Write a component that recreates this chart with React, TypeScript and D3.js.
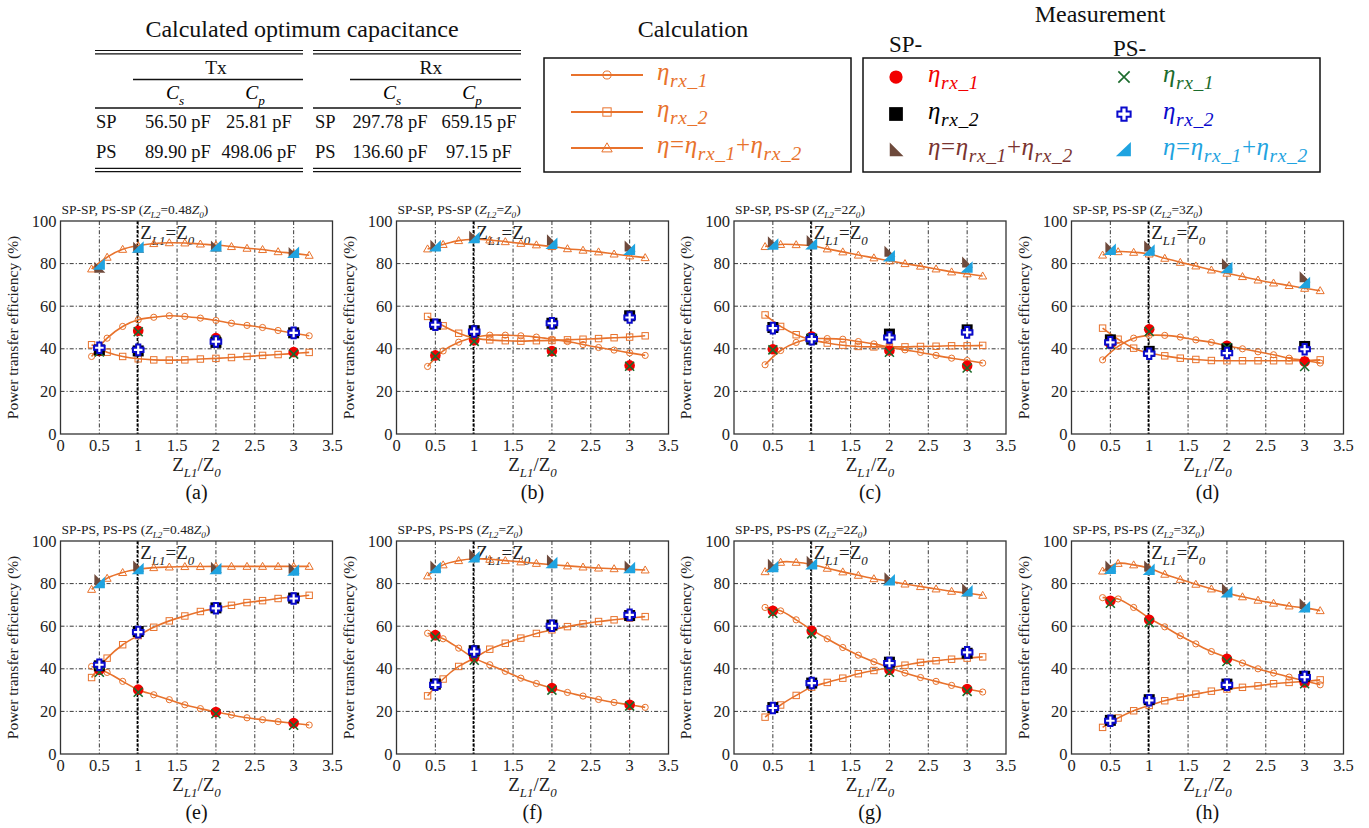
import React from 'react';
import * as d3 from 'd3';

const FONT = "'Liberation Serif','Times New Roman',serif";
const ORANGE = '#E8722C';

// ---------- data ----------
const calcX = [0.4, 0.6, 0.8, 1.0, 1.2, 1.4, 1.6, 1.8, 2.0, 2.2, 2.4, 2.6, 2.8, 3.0, 3.2];
const measX = [0.5, 1, 2, 3];
const xTicks = [0, 0.5, 1, 1.5, 2, 2.5, 3, 3.5];
const yTicks = [0, 20, 40, 60, 80, 100];
const panelLetters = ['a', 'b', 'c', 'd', 'e', 'f', 'g', 'h'];
const zl2Coef = ['0.48', '', '2', '3'];
const rowPrefix = ['SP-SP, PS-SP', 'SP-PS, PS-PS'];

// calculation (rows a..h)
const calcRx1 = [
  [36.4, 45, 50.5, 53.6, 54.8, 55.5, 55.2, 54.4, 53.3, 52, 51, 50, 48.6, 47.3, 46.1],
  [31.7, 39, 43.1, 45.3, 46.4, 46.4, 46.1, 45.5, 44.5, 43.4, 42, 40.6, 39.4, 38.1, 36.9],
  [32.5, 39.2, 43, 44.7, 44.8, 44.5, 43.4, 42.3, 40.8, 39.5, 38.3, 36.9, 35.6, 34.5, 33.3],
  [34.8, 41.1, 45, 46.3, 46.3, 45.5, 44.2, 43, 41.4, 40, 38.6, 37.2, 35.6, 34.5, 33.3],
  [41.1, 38.3, 34.1, 30.2, 27.8, 25.5, 23.1, 21.3, 19.7, 18.3, 17, 16.1, 15.2, 14.4, 13.6],
  [56.7, 54.1, 49.7, 45, 41.9, 38.8, 35.6, 33.1, 30.9, 28.9, 27.2, 25.6, 24.2, 23.1, 21.9],
  [68.8, 67.2, 63, 58.3, 54.1, 50, 46.4, 43.3, 40.5, 38, 35.9, 34.1, 32.2, 30.5, 29.1],
  [73.4, 72.8, 68.8, 63.8, 59.7, 55.5, 51.7, 48.1, 45.3, 42.7, 40, 38, 36.1, 34.4, 32.5],
];
const calcRx2 = [
  [41.9, 38.4, 36.4, 35.3, 34.8, 34.7, 34.8, 35.2, 35.5, 35.9, 36.4, 36.9, 37.3, 37.8, 38.3],
  [55.2, 50.8, 47.3, 45, 44.2, 43.8, 43.6, 43.8, 43.9, 44.2, 44.5, 44.8, 45.2, 45.5, 46.1],
  [55.9, 50.5, 46.6, 44.2, 42.7, 41.7, 41.1, 40.9, 40.9, 40.9, 41.1, 41.2, 41.4, 41.4, 41.6],
  [49.7, 44.5, 40.3, 38, 36.7, 35.6, 35, 34.5, 34.4, 34.4, 34.4, 34.4, 34.4, 34.5, 34.8],
  [35.9, 45, 51.3, 55.6, 59.5, 62.5, 64.8, 66.9, 68.4, 69.8, 71.1, 72, 73, 73.8, 74.5],
  [27.3, 35.2, 41.1, 45, 49.2, 52, 54.4, 56.6, 58.3, 59.8, 61.1, 62.2, 63, 63.8, 64.5],
  [17.3, 23, 27.5, 31.4, 33.6, 35.6, 37.7, 39.2, 40.5, 41.7, 43, 43.8, 44.5, 45, 45.6],
  [12.5, 16.9, 20.3, 22.8, 25, 26.7, 28.1, 29.5, 30.5, 31.3, 32, 33, 33.6, 34.1, 34.8],
];
const calcTotal = [
  [77.5, 83, 86.7, 88.4, 89.4, 89.8, 89.7, 89.2, 88.7, 88, 87.2, 86.6, 85.6, 84.8, 83.9],
  [86.9, 89, 90.8, 91.4, 91.1, 90.3, 89.5, 88.8, 88, 87, 86.3, 85.5, 84.5, 83.6, 82.8],
  [88, 89, 88.9, 88.4, 86.9, 85.5, 84, 82.7, 81.3, 80, 78.8, 77.5, 76.1, 75.2, 74.2],
  [84, 85.6, 85.3, 84.5, 82.5, 80.6, 78.9, 77, 75.5, 73.9, 72.3, 70.9, 69.7, 68.4, 67.3],
  [77.3, 82.5, 85.2, 86.7, 87.5, 87.8, 88, 88, 88.1, 88.1, 88.1, 88.1, 88.1, 88.1, 88.1],
  [83.6, 88.8, 90.8, 91.7, 91.4, 90.8, 90.2, 89.5, 88.9, 88.3, 87.8, 87.3, 87, 86.7, 86.4],
  [85.6, 90, 90, 89, 87.2, 85.5, 83.9, 82.3, 81.1, 79.8, 78.6, 77.5, 76.4, 75.5, 74.5],
  [85.9, 89.5, 88.8, 87.2, 84.4, 82, 79.7, 77.5, 75.5, 73.8, 72.2, 70.8, 69.5, 68.6, 67.3],
];

// measurement (rows a..h, at measX)
const spRx1 = [
  [39, 48.5, 45, 38.5], [36.9, 44, 39, 32.2], [39.8, 45.8, 39.2, 32], [42.5, 49.2, 41.4, 34],
  [39.5, 30.2, 19.7, 14.5], [55.8, 45.5, 31, 23.1], [67.2, 57.8, 39.5, 30.5], [71.9, 63, 44.7, 33.6],
];
const psRx1 = [
  [38.5, 48, 44, 37.5], [36.5, 43.5, 38.5, 31.8], [39.5, 45, 38.4, 31], [42, 48.1, 40.6, 31.7],
  [38.4, 29, 18.9, 13.5], [55, 44, 30, 22.5], [66.1, 56.4, 38.4, 29.4], [70.8, 61.7, 43.4, 33],
];
const spRx2 = [
  [39.5, 39, 43, 47.5], [51.5, 48.5, 52, 55.5], [50, 44.5, 46.9, 48.9], [44.2, 38.8, 40, 41.1],
  [41.4, 57.5, 68.6, 73.2], [32.8, 48.5, 60.5, 65], [21.8, 33.3, 43.1, 47.3], [15.8, 25.5, 32.8, 36.5],
];
const psRx2 = [
  [40.5, 39.5, 43.4, 47.5], [51.3, 48.1, 52, 54.7], [49.7, 44.5, 45.3, 47.7], [43, 37.7, 38, 39.8],
  [41.9, 57.2, 68.4, 73], [32.5, 48.1, 60.2, 65.3], [21.6, 33.3, 42.7, 47.7], [15.6, 25.2, 32.5, 36.1],
];
const spTotal = [
  [78, 87.5, 88, 85], [88.4, 92.6, 91, 88], [90, 90.6, 85.6, 80.5], [87.5, 88, 79.7, 73.6],
  [81.7, 88, 87.5, 87], [88, 93.4, 90.8, 88], [88.8, 90.3, 82.5, 77.3], [88, 88, 77.3, 70.3],
];
const psTotal = [
  [79.5, 87.5, 88, 85], [88, 91.9, 89.2, 86.4], [88.8, 89, 83.3, 78.1], [86.4, 86, 77.8, 70.8],
  [80.2, 86.7, 86.7, 86], [87.2, 92.3, 89.5, 87.2], [87.7, 89, 81.4, 76.3], [86.9, 86.4, 75.8, 68.8],
];

// table
const tableRows = ['SP', 'PS'];
const txCs = ['56.50 pF', '89.90 pF'];
const txCp = ['25.81 pF', '498.06 pF'];
const rxCs = ['297.78 pF', '136.60 pF'];
const rxCp = ['659.15 pF', '97.15 pF'];

const COLORS = {
  spRx1: '#F20000',
  spRx2: '#000000',
  spTot: '#6E4A3C',
  spTotText: '#7A3430',
  psRx1: '#1B6B2C',
  psRx2: '#0A0ACC',
  psTot: '#1FA3E0',
};

// ---------- helpers ----------
type Part = { t: string; sub?: boolean; it?: boolean };

function Rich({ x, y, parts, size, anchor = 'start', fill = '#000', subRatio = 0.68, shiftRatio = 0.3, spacing }: any) {
  let cur = 0;
  const shift = size * shiftRatio;
  return (
    <text x={x} y={y} fontSize={size} textAnchor={anchor} fill={fill} fontFamily={FONT} letterSpacing={spacing}>
      {parts.map((p: Part, i: number) => {
        const target = p.sub ? shift : 0;
        const dy = target - cur;
        cur = target;
        return (
          <tspan key={i} dy={dy !== 0 ? dy : undefined} fontSize={p.sub ? size * subRatio : size} fontStyle={p.it ? 'italic' : 'normal'}>
            {p.t}
          </tspan>
        );
      })}
    </text>
  );
}

const etaRx = (n: string): Part[] => [{ t: 'η', it: true }, { t: 'rx_' + n, sub: true, it: true }];
const etaTot: Part[] = [{ t: 'η', it: true }, { t: '=' }, ...etaRx('1'), { t: '+' }, ...etaRx('2')];

function MeasMarker({ kind, cx, cy, s = 1 }: any) {
  const k = s;
  switch (kind) {
    case 'spRx1':
      return <circle cx={cx} cy={cy} r={5.3 * k} fill={COLORS.spRx1} />;
    case 'spRx2':
      return <rect x={cx - 5.5 * k} y={cy - 5.5 * k} width={11 * k} height={11 * k} fill={COLORS.spRx2} />;
    case 'spTot':
      return <path d={`M${cx - 5 * k},${cy - 6 * k}L${cx - 5 * k},${cy + 5 * k}L${cx + 6 * k},${cy + 5 * k}Z`} fill={COLORS.spTot} />;
    case 'psRx1':
      return (
        <path
          d={`M${cx - 4.5 * k},${cy - 4.5 * k}L${cx + 4.5 * k},${cy + 4.5 * k}M${cx - 4.5 * k},${cy + 4.5 * k}L${cx + 4.5 * k},${cy - 4.5 * k}`}
          stroke={COLORS.psRx1}
          strokeWidth={1.6}
          fill="none"
        />
      );
    case 'psRx2': {
      const a = 2.1 * k, b = 5.3 * k;
      const pts = [[-a, -b], [a, -b], [a, -a], [b, -a], [b, a], [a, a], [a, b], [-a, b], [-a, a], [-b, a], [-b, -a], [-a, -a]]
        .map(([px, py]) => `${cx + px},${cy + py}`).join(' ');
      return <polygon points={pts} fill="#fff" stroke={COLORS.psRx2} strokeWidth={2} strokeLinejoin="miter" />;
    }
    case 'psTot':
      return <path d={`M${cx + 5.5 * k},${cy - 6.5 * k}L${cx + 5.5 * k},${cy + 5 * k}L${cx - 6.5 * k},${cy + 5 * k}Z`} fill={COLORS.psTot} />;
  }
  return null;
}

function CalcMarker({ kind, cx, cy, s = 1 }: any) {
  if (kind === 'c') return <circle cx={cx} cy={cy} r={3.1 * s} fill="none" stroke={ORANGE} strokeWidth={1} />;
  if (kind === 's') return <rect x={cx - 3.2 * s} y={cy - 3.2 * s} width={6.4 * s} height={6.4 * s} fill="none" stroke={ORANGE} strokeWidth={1} />;
  return <path d={`M${cx},${cy - 4 * s}L${cx + 4 * s},${cy + 3 * s}L${cx - 4 * s},${cy + 3 * s}Z`} fill="none" stroke={ORANGE} strokeWidth={1} />;
}

// ---------- panel ----------
const PW = 272;
const PH = 213;
const panelX = [60.5, 396.5, 734, 1071.5];
const panelY = [221, 541];

function Panel({ idx }: { idx: number }) {
  const row = Math.floor(idx / 4);
  const col = idx % 4;
  const x0 = panelX[col];
  const y0 = panelY[row];
  const x = d3.scaleLinear().domain([0, 3.5]).range([x0, x0 + PW]);
  const y = d3.scaleLinear().domain([0, 100]).range([y0 + PH, y0]);
  const line = d3.line<number>().x((_, i) => x(calcX[i])).y((d) => y(d)).curve(d3.curveCatmullRom.alpha(0.5));
  const calcSeries: [number[], string][] = [
    [calcRx1[idx], 'c'],
    [calcRx2[idx], 's'],
    [calcTotal[idx], 't'],
  ];
  const meas: [number[], string][] = [
    [spRx1[idx], 'spRx1'],
    [spRx2[idx], 'spRx2'],
    [spTotal[idx], 'spTot'],
    [psRx1[idx], 'psRx1'],
    [psRx2[idx], 'psRx2'],
    [psTotal[idx], 'psTot'],
  ];
  const coef = zl2Coef[col];
  const titleParts: Part[] = [
    { t: rowPrefix[row] + ' (' },
    { t: 'Z', it: true },
    { t: 'L2', sub: true, it: true },
    { t: '=' + coef },
    { t: 'Z', it: true },
    { t: '0', sub: true, it: true },
    { t: ')' },
  ];
  const gridDash = '4,2,1.2,2';
  return (
    <g>
      <Rich x={x0 + 1} y={y0 - 7} size={13.5} fill="#222" parts={titleParts} />
      {/* grid */}
      {xTicks.filter((t) => t > 0 && t < 3.5).map((t) => (
        <line key={'gx' + t} x1={x(t)} x2={x(t)} y1={y0} y2={y0 + PH} stroke="#222" strokeWidth={0.9} strokeDasharray={gridDash} />
      ))}
      {yTicks.filter((t) => t > 0 && t < 100).map((t) => (
        <line key={'gy' + t} x1={x0} x2={x0 + PW} y1={y(t)} y2={y(t)} stroke="#222" strokeWidth={0.9} strokeDasharray={gridDash} />
      ))}
      <line x1={x(1) - 0.8} x2={x(1) - 0.8} y1={y0} y2={y0 + PH} stroke="#000" strokeWidth={1.6} strokeDasharray="3,1.5" />
      <Rich
        x={x(1) + 2}
        y={y0 + 18}
        size={19}
        fill="#222"
        parts={[{ t: 'Z' }, { t: 'L1', sub: true, it: true }, { t: '=Z' }, { t: '0', sub: true, it: true }]}
      />
      {/* calc curves */}
      {calcSeries.map(([vals, k]) => (
        <g key={k}>
          <path d={line(vals) || ''} fill="none" stroke={ORANGE} strokeWidth={1.6} />
          {vals.map((v, i) => (
            <CalcMarker key={i} kind={k} cx={x(calcX[i])} cy={y(v)} />
          ))}
        </g>
      ))}
      {/* measurements */}
      {meas.map(([vals, k]) => (
        <g key={k}>
          {vals.map((v, i) => (
            <MeasMarker key={i} kind={k} cx={x(measX[i])} cy={y(v)} />
          ))}
        </g>
      ))}
      {/* box */}
      <rect x={x0} y={y0} width={PW} height={PH} fill="none" stroke="#333" strokeWidth={1.3} />
      {/* tick labels */}
      {xTicks.map((t) => (
        <text key={'xt' + t} x={x(t)} y={y0 + PH + 17} fontSize={16.5} textAnchor="middle" fontFamily={FONT} fill="#222">
          {String(t)}
        </text>
      ))}
      {yTicks.map((t) => (
        <text key={'yt' + t} x={x0 - 4} y={y(t) + 5.5} fontSize={16.5} textAnchor="end" fontFamily={FONT} fill="#222">
          {String(t)}
        </text>
      ))}
      <text
        transform={`translate(${x0 - 43},${y0 + PH / 2}) rotate(-90)`}
        fontSize={15.5}
        textAnchor="middle"
        fontFamily={FONT}
        fill="#222"
      >
        Power transfer efficiency (%)
      </text>
      <Rich
        x={x0 + PW / 2}
        y={y0 + PH + 37}
        size={19}
        anchor="middle"
        fill="#222"
        parts={[{ t: 'Z' }, { t: 'L1', sub: true, it: true }, { t: '/Z' }, { t: '0', sub: true, it: true }]}
      />
      <text x={x0 + PW / 2} y={y0 + PH + 65} fontSize={20} textAnchor="middle" fontFamily={FONT} fill="#111">
        ({panelLetters[idx]})
      </text>
    </g>
  );
}

// ---------- header ----------
function Table() {
  const L = [95, 303];
  const R = [313, 521];
  const rowY = [128, 158];
  const fs = 18.5;
  return (
    <g fontFamily={FONT} fill="#111">
      <text x={302} y={37} fontSize={24} textAnchor="middle">Calculated optimum capacitance</text>
      {[L, R].map(([a, b], i) => (
        <g key={i} stroke="#111">
          <line x1={a} x2={b} y1={50.5} y2={50.5} strokeWidth={1.2} />
          <line x1={a} x2={b} y1={53.8} y2={53.8} strokeWidth={1.2} />
          <line x1={a} x2={b} y1={108} y2={108} strokeWidth={1.4} />
          <line x1={a} x2={b} y1={168.3} y2={168.3} strokeWidth={1.2} />
          <line x1={a} x2={b} y1={171.6} y2={171.6} strokeWidth={1.2} />
        </g>
      ))}
      <line x1={133} x2={303} y1={79.5} y2={79.5} stroke="#111" strokeWidth={1.3} />
      <line x1={350} x2={521} y1={79.5} y2={79.5} stroke="#111" strokeWidth={1.3} />
      <text x={216} y={74} fontSize={19.5} textAnchor="middle">Tx</text>
      <text x={431} y={74} fontSize={19.5} textAnchor="middle">Rx</text>
      {[175, 392].map((cx) => (
        <Rich key={'cs' + cx} x={cx} y={99} size={19.5} anchor="middle" parts={[{ t: 'C', it: true }, { t: 's', sub: true, it: true }]} />
      ))}
      {[255, 472].map((cx) => (
        <Rich key={'cp' + cx} x={cx} y={99} size={19.5} anchor="middle" parts={[{ t: 'C', it: true }, { t: 'p', sub: true, it: true }]} />
      ))}
      {tableRows.map((r, i) => (
        <g key={r} fontSize={fs}>
          <text x={96} y={rowY[i]}>{r}</text>
          <text x={178} y={rowY[i]} textAnchor="middle">{txCs[i]}</text>
          <text x={259} y={rowY[i]} textAnchor="middle">{txCp[i]}</text>
          <text x={315} y={rowY[i]}>{r}</text>
          <text x={390} y={rowY[i]} textAnchor="middle">{rxCs[i]}</text>
          <text x={479} y={rowY[i]} textAnchor="middle">{rxCp[i]}</text>
        </g>
      ))}
    </g>
  );
}

const LEG_FS = 25;
const LEG_SUB = 0.78;

function CalcLegend() {
  const rows: [string, Part[]][] = [
    ['c', etaRx('1')],
    ['s', etaRx('2')],
    ['t', etaTot],
  ];
  const ys = [75, 112, 148];
  return (
    <g>
      <text x={693} y={37} fontSize={24} textAnchor="middle" fontFamily={FONT} fill="#111">Calculation</text>
      <rect x={544} y={58} width={307} height={114} fill="none" stroke="#111" strokeWidth={1.5} />
      {rows.map(([k, parts], i) => (
        <g key={k}>
          <line x1={571} x2={643} y1={ys[i]} y2={ys[i]} stroke={ORANGE} strokeWidth={2} />
          <CalcMarker kind={k} cx={607} cy={ys[i]} s={1.3} />
          <Rich x={657} y={ys[i] + 5} size={LEG_FS} subRatio={LEG_SUB} shiftRatio={0.26} spacing={0.6} fill={ORANGE} parts={parts} />
        </g>
      ))}
    </g>
  );
}

function MeasLegend() {
  const ys = [77, 114, 150];
  const sp: [string, Part[], string][] = [
    ['spRx1', etaRx('1'), COLORS.spRx1],
    ['spRx2', etaRx('2'), COLORS.spRx2],
    ['spTot', etaTot, COLORS.spTotText],
  ];
  const ps: [string, Part[], string][] = [
    ['psRx1', etaRx('1'), COLORS.psRx1],
    ['psRx2', etaRx('2'), COLORS.psRx2],
    ['psTot', etaTot, COLORS.psTot],
  ];
  return (
    <g>
      <text x={1100} y={22} fontSize={24} textAnchor="middle" fontFamily={FONT} fill="#111">Measurement</text>
      <text x={889} y={52} fontSize={23} fontFamily={FONT} fill="#111">SP-</text>
      <text x={1113} y={56} fontSize={23} fontFamily={FONT} fill="#111">PS-</text>
      <rect x={863} y={58} width={457} height={114} fill="none" stroke="#111" strokeWidth={1.5} />
      {sp.map(([k, parts, c], i) => (
        <g key={k}>
          <MeasMarker kind={k} cx={896} cy={ys[i]} s={1.25} />
          <Rich x={928} y={ys[i] + 5} size={LEG_FS} subRatio={LEG_SUB} shiftRatio={0.26} spacing={0.6} fill={c} parts={parts} />
        </g>
      ))}
      {ps.map(([k, parts, c], i) => (
        <g key={k}>
          <MeasMarker kind={k} cx={1124} cy={ys[i]} s={1.25} />
          <Rich x={1163} y={ys[i] + 5} size={LEG_FS} subRatio={LEG_SUB} shiftRatio={0.26} spacing={0.6} fill={c} parts={parts} />
        </g>
      ))}
    </g>
  );
}

export default function App() {
  return (
    <svg
      width={1369}
      height={828}
      viewBox="0 0 1369 828"
      style={{ position: 'absolute', left: 0, top: 0, background: '#fff', fontFamily: FONT }}
    >
      <rect width={1369} height={828} fill="#fff" />
      <Table />
      <CalcLegend />
      <MeasLegend />
      {d3.range(8).map((i) => (
        <Panel key={i} idx={i} />
      ))}
    </svg>
  );
}
